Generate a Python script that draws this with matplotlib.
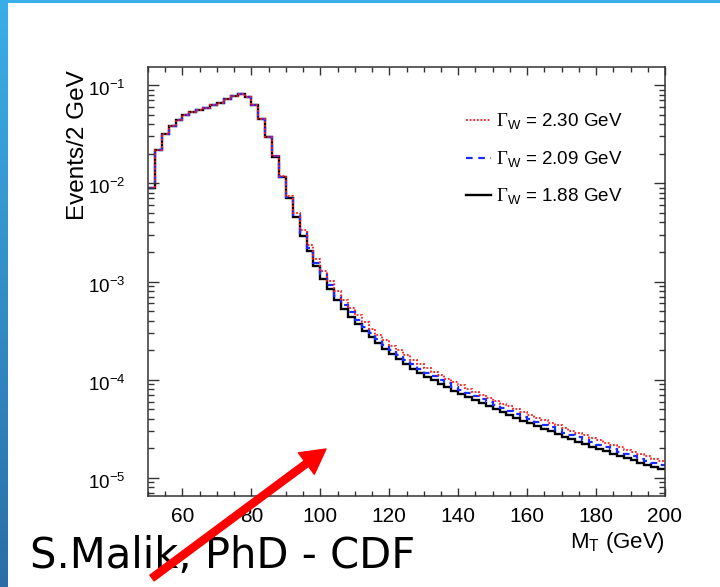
import numpy as np
import matplotlib
matplotlib.use("Agg")
import matplotlib.pyplot as plt
import matplotlib.transforms as mtransforms
from matplotlib.lines import Line2D
from matplotlib.patches import FancyArrowPatch, Rectangle
from matplotlib.ticker import MultipleLocator, LogLocator, NullFormatter

# ---- data ----
# bin edges: 2 GeV bins from 50 to 200 GeV
mt_lo = 50
mt_hi = 200
bin_w = 2

# Gamma_W = 1.88 GeV (black, solid)
h_188 = [0.0089, 0.0217, 0.0314, 0.0385, 0.044, 0.0494, 0.0527, 0.0556, 0.059, 0.0625,
         0.066, 0.0714, 0.078, 0.081, 0.075, 0.062, 0.045, 0.0297, 0.0186, 0.0115,
         0.0070, 0.00453, 0.00294, 0.00205, 0.00143, 0.00107, 0.00084, 0.00065, 0.000526, 0.00044,
         0.00037, 0.000316, 0.00027, 0.000235, 0.000206, 0.000183, 0.000163, 0.000145, 0.000130, 1.18e-4,
         1.076e-4, 9.86e-5, 9.08e-5, 8.37e-5, 7.74e-5, 7.18e-5, 6.67e-5, 6.19e-5, 5.77e-5, 5.37e-5,
         5.01e-5, 4.68e-5, 4.38e-5, 4.09e-5, 3.84e-5, 3.60e-5, 3.37e-5, 3.17e-5, 2.98e-5, 2.81e-5,
         2.64e-5, 2.49e-5, 2.35e-5, 2.22e-5, 2.09e-5, 1.98e-5, 1.87e-5, 1.77e-5, 1.68e-5, 1.59e-5,
         1.51e-5, 1.43e-5, 1.36e-5, 1.29e-5, 1.23e-5]

# Gamma_W = 2.09 GeV (blue, dashed)
h_209 = [0.0089, 0.0217, 0.0314, 0.0385, 0.044, 0.0494, 0.0527, 0.0556, 0.059, 0.0625,
         0.066, 0.0714, 0.078, 0.081, 0.075, 0.062, 0.045, 0.0297, 0.0188, 0.0117,
         0.00725, 0.00476, 0.00313, 0.00221, 0.00156, 0.00118, 0.000924, 0.000715, 0.000579, 0.000484,
         0.000407, 0.000348, 0.000297, 0.000259, 0.000227, 0.000201, 0.000179, 0.000160, 0.000143, 1.30e-4,
         1.18e-4, 1.08e-4, 9.99e-5, 9.21e-5, 8.51e-5, 7.90e-5, 7.34e-5, 6.81e-5, 6.35e-5, 5.91e-5,
         5.51e-5, 5.15e-5, 4.82e-5, 4.50e-5, 4.22e-5, 3.96e-5, 3.71e-5, 3.49e-5, 3.28e-5, 3.09e-5,
         2.90e-5, 2.74e-5, 2.59e-5, 2.44e-5, 2.30e-5, 2.18e-5, 2.06e-5, 1.95e-5, 1.85e-5, 1.75e-5,
         1.66e-5, 1.57e-5, 1.50e-5, 1.42e-5, 1.35e-5]

# Gamma_W = 2.30 GeV (red, dotted)
h_230 = [0.0089, 0.0217, 0.0314, 0.0385, 0.044, 0.0494, 0.0527, 0.0556, 0.059, 0.0625,
         0.066, 0.0714, 0.078, 0.081, 0.075, 0.062, 0.045, 0.0297, 0.0190, 0.0120,
         0.00749, 0.00498, 0.00332, 0.00238, 0.00169, 0.00128, 0.00102, 0.000793, 0.000642, 0.000537,
         0.000451, 0.000386, 0.000329, 0.000287, 0.000251, 0.000223, 0.000199, 0.000177, 0.000159, 1.44e-4,
         1.31e-4, 1.20e-4, 1.11e-4, 1.02e-4, 9.44e-5, 8.76e-5, 8.14e-5, 7.55e-5, 7.04e-5, 6.55e-5,
         6.11e-5, 5.71e-5, 5.34e-5, 4.99e-5, 4.68e-5, 4.39e-5, 4.11e-5, 3.87e-5, 3.64e-5, 3.43e-5,
         3.22e-5, 3.04e-5, 2.87e-5, 2.71e-5, 2.55e-5, 2.42e-5, 2.28e-5, 2.16e-5, 2.05e-5, 1.94e-5,
         1.84e-5, 1.74e-5, 1.66e-5, 1.57e-5, 1.50e-5]

labels = [r'$\Gamma_{\mathregular{W}}$ = 2.30 GeV',
          r'$\Gamma_{\mathregular{W}}$ = 2.09 GeV',
          r'$\Gamma_{\mathregular{W}}$ = 1.88 GeV']

# ---- style ----
plt.rcParams['font.family'] = ['Liberation Sans', 'DejaVu Sans']
plt.rcParams['mathtext.fontset'] = 'custom'
plt.rcParams['mathtext.rm'] = 'Liberation Serif'
plt.rcParams['mathtext.sf'] = 'Liberation Sans'
plt.rcParams['axes.unicode_minus'] = False

W, H = 720, 587
fig = plt.figure(figsize=(W / 100, H / 100), dpi=100)
fig.patch.set_facecolor('white')

# slide decoration: blue bar left and thin blue strip on top
bar = fig.add_axes([0, 0, 8 / W, 1])
grad = np.linspace(0, 1, 256).reshape(-1, 1)
cmap = matplotlib.colors.LinearSegmentedColormap.from_list('slide', ['#3aaee8', '#2b6ea6'])
bar.imshow(grad, aspect='auto', cmap=cmap, extent=[0, 1, 0, 1], origin='upper')
bar.axis('off')
fig.add_artist(Rectangle((0, 1 - 3 / H), 1, 3 / H, transform=fig.transFigure,
                         color='#3aaee8', lw=0, zorder=0))

# ---- plot ----
ax = fig.add_axes([148 / W, 1 - 496 / H, 517 / W, 429 / H])
edges = np.arange(mt_lo, mt_hi + bin_w, bin_w)

ax.stairs(h_188, edges, baseline=None, color='black', lw=1.7)
ax.stairs(h_209, edges, baseline=None, color='#1a2cff', lw=1.6, linestyle=(0, (3, 2.5)))
ax.stairs(h_230, edges, baseline=None, color='#ff1a1a', lw=1.3, linestyle=(0, (1, 1)))

ax.set_yscale('log')
ax.set_xlim(mt_lo, mt_hi)
ax.set_ylim(6.55e-6, 0.1527)

ax.xaxis.set_major_locator(MultipleLocator(20))
ax.xaxis.set_minor_locator(MultipleLocator(5))
ax.yaxis.set_major_locator(LogLocator(base=10))
ax.yaxis.set_minor_locator(LogLocator(base=10, subs=np.arange(2, 10)))
ax.yaxis.set_minor_formatter(NullFormatter())

ax.tick_params(which='both', direction='in', top=True, right=True, color='#333333', width=1.0)
ax.tick_params(axis='x', which='major', length=6, labelsize=15, pad=8)
ax.tick_params(axis='x', which='minor', length=3.5)
ax.tick_params(axis='y', which='major', length=8, labelsize=13.5, pad=16)
ax.tick_params(axis='y', which='minor', length=4.5)
for s in ax.spines.values():
    s.set_linewidth(1.1)
    s.set_color('#333333')

# y tick labels sit a little below their ticks, as in the ROOT original
shift = mtransforms.ScaledTranslation(0, -3 / 100, fig.dpi_scale_trans)
for lab in ax.get_yticklabels():
    lab.set_transform(lab.get_transform() + shift)

ax.set_xlabel(r'M$_{\mathregular{T}}$ (GeV)', fontsize=16, loc='right')
ax.xaxis.set_label_coords(1.0, -0.080)
ax.set_ylabel('Events/2 GeV', fontsize=17.5, loc='top')
ax.yaxis.set_label_coords(-0.114, 0.993)

handles = [Line2D([], [], color='#ff1a1a', lw=1.3, linestyle=(0, (1, 1))),
           Line2D([], [], color='#1a2cff', lw=1.6, linestyle=(0, (3, 2.5))),
           Line2D([], [], color='black', lw=1.7)]
ax.legend(handles, labels, loc='upper left', bbox_to_anchor=(0.615, 0.895), frameon=False,
          fontsize=13.5, borderaxespad=0, borderpad=0, handlelength=1.35,
          handletextpad=0.25, labelspacing=0.9)

# ---- slide annotation ----
fig.text(30 / W, 1 - 568 / H, 'S.Malik, PhD - CDF', fontsize=30,
         family=['Liberation Sans Narrow', 'DejaVu Sans'], va='baseline', ha='left', zorder=3)
arrow = FancyArrowPatch((152 / W, 1 - 578 / H), (326 / W, 1 - 449 / H),
                        transform=fig.transFigure, color='#ff0000',
                        arrowstyle='simple,head_length=1.1,head_width=1.2,tail_width=0.32',
                        mutation_scale=16, shrinkA=0, shrinkB=0, zorder=5)
fig.add_artist(arrow)

fig.savefig('out.png', dpi=100)
